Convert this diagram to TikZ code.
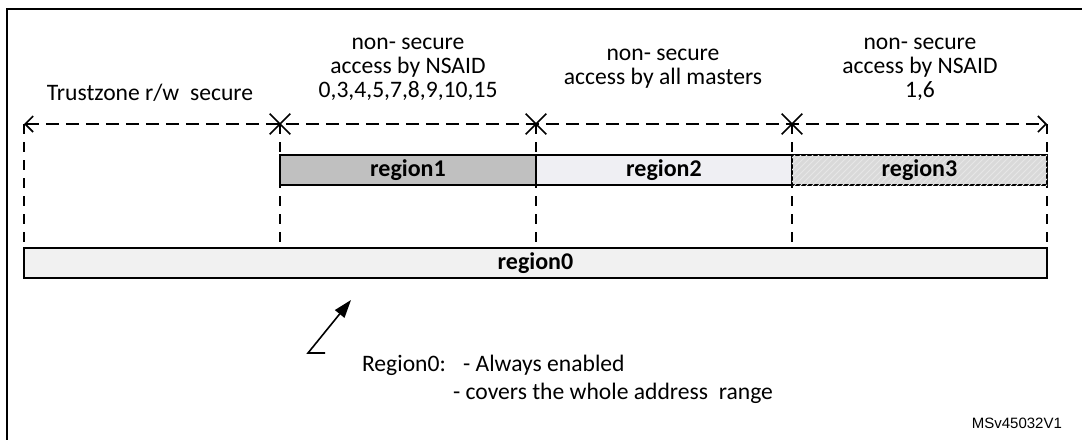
\documentclass[tikz,border=0pt]{standalone}
\usepackage{fontspec}
\setmainfont{Carlito}
\newfontfamily\arialfont{Liberation Sans}
\usetikzlibrary{arrows.meta}
\usetikzlibrary{patterns}
\usetikzlibrary{shapes.misc}
\definecolor{regiondark}{HTML}{C0C0C0}
\definecolor{regionpale}{HTML}{EFEFF3}
\definecolor{regionhatch}{HTML}{D9D9D9}
\definecolor{hatchline}{HTML}{E6E6E6}
\definecolor{regionbase}{HTML}{F1F1F1}

\begin{document}
\begin{tikzpicture}[x=0.5pt,y=-0.5pt,
		hline/.style={line width=0.8pt,dash pattern=on 6.5pt off 3.5pt},
		vline/.style={line width=0.8pt,dash pattern=on 5pt off 4pt},
		regionbox/.style={draw,line width=0.8pt,minimum height=15pt,inner sep=0pt,font=\fontsize{12}{12}\selectfont\bfseries},
		lbl/.style={font=\fontsize{11.8}{12}\selectfont,align=center},
		barb/.tip={Straight Barb[length=4pt,width=8pt]}]
		\useasboundingbox (0,0) rectangle (1082,440);
		\draw[line width=1pt] (1082,9) -- (7,9) -- (7,440);
		\foreach \n/\x in {0/24,1/280,2/536,3/792,4/1047} {
			\coordinate (t\n) at (\x,124);
			\coordinate (b\n) at (\x,248);
		}
		\draw[hline,barb-barb] (t0) -- (t4);
		\foreach \n in {0,...,4} \draw[vline] (t\n) -- (b\n);
		\foreach \n in {1,2,3} \node[draw,cross out,line width=0.8pt,minimum size=9.5pt,inner sep=0pt] (x\n) at (t\n) {};
		\node[regionbox,fill=regiondark,minimum width=128pt] (region1) at (408,170) {region1};
		\node[regionbox,fill=regionpale,minimum width=128pt] (region2) at (664,170) {region2};
		\node[regionbox,fill=regionhatch,minimum width=127.5pt,postaction={pattern=north east lines,pattern color=hatchline}] (region3) at (919.5,170) {region3};
		\node[regionbox,fill=regionbase,minimum width=511.5pt] (region0) at (535.5,263) {region0};
		\node[lbl] (secure) at (150,93) {Trustzone r/w\ \ secure};
		\node[lbl] (ns1) at (408,69) {non- secure\\access by NSAID\\0,3,4,5,7,8,9,10,15};
		\node[lbl] (ns2) at (663,69) {non- secure\\access by all masters};
		\node[lbl] (ns3) at (920,69) {non- secure\\access by NSAID\\1,6};
		\coordinate (tailend) at (325,353);
		\coordinate (tail) at (308,353);
		\coordinate (tip) at (351,300);
		\draw[line width=0.8pt,-{Triangle[length=9pt,width=6pt]}] (tailend) -- (tail) -- (tip);
		\node[lbl,anchor=west] (note) at (355,365) {Region0:};
		\node[lbl,anchor=west] (noteA) at (456,365) {- Always enabled};
		\node[lbl,anchor=west] (noteB) at (446,393) {- covers the whole address\ \ range};
		\node[font=\arialfont\fontsize{7.5}{9}\selectfont,anchor=east] (ref) at (1069,423) {MSv45032V1};
	\end{tikzpicture}
\end{document}
